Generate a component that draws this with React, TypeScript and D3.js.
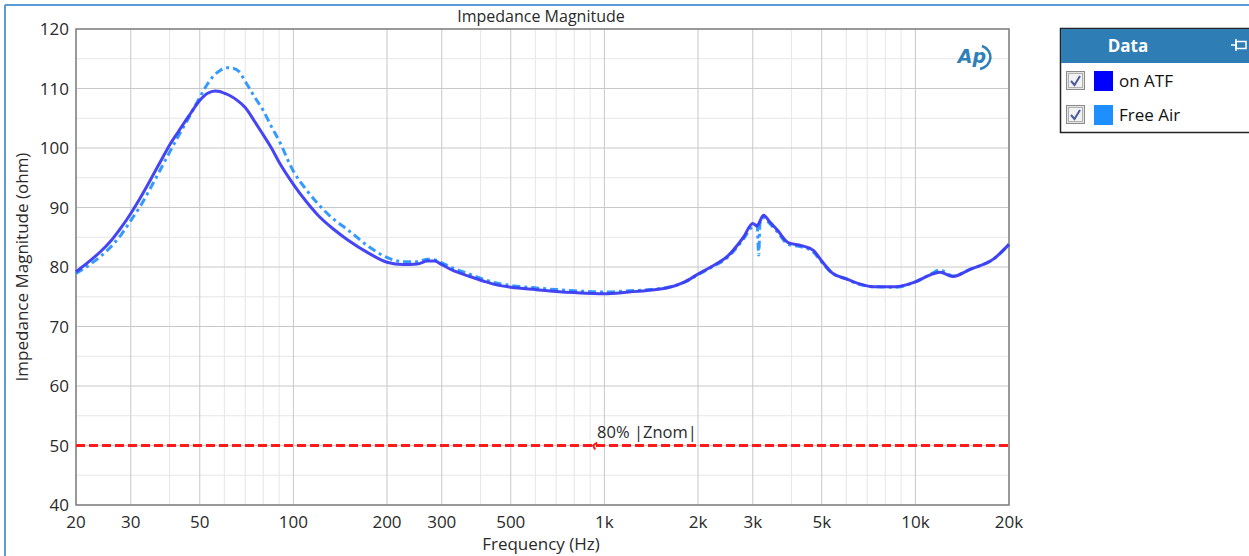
import React from "react";
import * as d3 from "d3";

const atfFreq = [20, 22, 24, 26, 28, 30, 32, 35, 38, 40, 43, 46, 50, 53, 56, 58, 60, 63, 66, 70, 75, 80, 85, 90, 100, 110, 120, 135, 150, 175, 200, 225, 250, 270, 285, 300, 330, 360, 410, 450, 500, 600, 700, 800, 1000, 1200, 1400, 1600, 1800, 2000, 2200, 2500, 2800, 3000, 3100, 3150, 3250, 3400, 3600, 3900, 4300, 4700, 5000, 5400, 6000, 6500, 7300, 8600, 10000, 11200, 12000, 13200, 15000, 18000, 20000];
const atfValues = [79.2, 80.9, 82.6, 84.5, 86.7, 89.0, 91.4, 95.0, 98.4, 100.5, 103.0, 105.3, 108.0, 109.2, 109.6, 109.5, 109.2, 108.7, 108.0, 106.8, 104.5, 102.2, 100.0, 97.6, 93.9, 91.0, 88.7, 86.3, 84.5, 82.3, 80.8, 80.4, 80.5, 81.0, 81.0, 80.4, 79.3, 78.6, 77.6, 77.0, 76.6, 76.2, 75.9, 75.7, 75.5, 75.8, 76.1, 76.5, 77.4, 78.8, 80.0, 81.9, 85.0, 87.3, 86.9, 87.5, 88.7, 87.6, 86.2, 84.1, 83.6, 82.8, 81.0, 79.0, 78.0, 77.3, 76.7, 76.7, 77.5, 78.7, 79.1, 78.4, 79.6, 81.5, 83.8];

const freeFreq = [20, 22, 24, 26, 28, 30, 32, 35, 38, 40, 43, 46, 50, 53, 56, 58, 61, 64, 67, 70, 75, 80, 85, 90, 100, 110, 120, 135, 150, 175, 200, 225, 250, 270, 285, 300, 330, 360, 410, 450, 500, 600, 700, 800, 1000, 1200, 1400, 1600, 1800, 2000, 2200, 2500, 2800, 3000, 3100, 3135, 3165, 3250, 3400, 3600, 3900, 4300, 4700, 5000, 5400, 6000, 6500, 7300, 8600, 10000, 11200, 12000, 13200, 15000, 18000, 20000];
const freeValues = [78.9, 80.3, 81.8, 83.5, 85.5, 87.8, 90.0, 93.6, 97.1, 99.3, 102.3, 105.0, 108.5, 110.8, 112.4, 113.0, 113.5, 113.4, 112.8, 111.2, 108.6, 106.3, 103.6, 101.2, 96.1, 93.0, 90.6, 88.0, 86.2, 83.4, 81.6, 80.9, 80.9, 81.3, 81.2, 80.7, 79.7, 79.0, 77.9, 77.3, 76.9, 76.5, 76.2, 76.0, 75.8, 76.0, 76.2, 76.6, 77.4, 78.7, 79.9, 81.7, 84.7, 86.8, 87.0, 82.0, 87.4, 88.3, 87.3, 85.9, 83.8, 83.4, 82.5, 80.8, 79.0, 78.0, 77.2, 76.7, 76.6, 77.5, 78.8, 79.5, 78.5, 79.6, 81.5, 83.8];

const xTickValues = [20, 30, 50, 100, 200, 300, 500, 1000, 2000, 3000, 5000, 10000, 20000];
const xTickLabels = ["20", "30", "50", "100", "200", "300", "500", "1k", "2k", "3k", "5k", "10k", "20k"];
const yTickValues = [40, 50, 60, 70, 80, 90, 100, 110, 120];
const limitValue = 50;
const limitLabel = "80% |Znom|";
const seriesNames = ["on ATF", "Free Air"];
const seriesColors = ["#0000ff", "#1e8fff"];

const FONT = "'Open Sans', 'Noto Sans', sans-serif";

export default function App() {
  const W = 1249, H = 556;
  const L = 76, R = 1009, T = 29, B = 505;
  const x = d3.scaleLog().domain([20, 20000]).range([L, R]);
  const y = d3.scaleLinear().domain([40, 120]).range([B, T]);

  const minorX: number[] = [];
  for (let dec = 10; dec <= 10000; dec *= 10) {
    for (let m = 1; m <= 9; m++) {
      const f = dec * m;
      if (f > 20 && f < 20000 && !xTickValues.includes(f)) minorX.push(f);
    }
  }
  const minorY = d3.range(45, 120, 10);

  const line = d3.line<[number, number]>().x(d => x(d[0])).y(d => y(d[1])).curve(d3.curveMonotoneX);
  const atfPath = line(atfFreq.map((f, i) => [f, atfValues[i]] as [number, number])) || "";
  const freePath = line(freeFreq.map((f, i) => [f, freeValues[i]] as [number, number])) || "";

  const tc = "#2a2a2a";
  const mx = x(920);
  return (
    <svg width={W} height={H} style={{ position: "absolute", left: 0, top: 0, display: "block" }} fontFamily={FONT}>
      <rect x={0} y={0} width={W} height={H} fill="#fff" />
      {/* window frame */}
      <line x1={5} y1={5} x2={W} y2={5} stroke="#5b9bd5" strokeWidth={2} />
      <line x1={5} y1={5} x2={5} y2={H} stroke="#5b9bd5" strokeWidth={2} />

      <text x={541} y={22} textAnchor="middle" fontSize={16} fill={tc}>Impedance Magnitude</text>

      {/* grid */}
      <g>
        {minorY.map(v => <line key={"my" + v} x1={L} x2={R} y1={y(v)} y2={y(v)} stroke="#e6e6e6" strokeWidth={1} />)}
        {minorX.map(f => <line key={"mx" + f} x1={x(f)} x2={x(f)} y1={T} y2={B} stroke="#e6e6e6" strokeWidth={1} />)}
        {yTickValues.map(v => <line key={"y" + v} x1={L} x2={R} y1={y(v)} y2={y(v)} stroke="#c8c8c8" strokeWidth={1} />)}
        {xTickValues.map(f => <line key={"x" + f} x1={x(f)} x2={x(f)} y1={T} y2={B} stroke="#c8c8c8" strokeWidth={1} />)}
      </g>
      <rect x={L} y={T} width={R - L} height={B - T} fill="none" stroke="#808080" strokeWidth={1.5} />

      {/* AP logo */}
      <g transform="translate(972,57)">
        <text x={0} y={6} textAnchor="middle" fontSize={19} fontWeight="bold" fontStyle="italic" fill="#2f7fb8" fontFamily="'DejaVu Sans', sans-serif">Ap</text>
        <path d="M 10 -11 A 13 12 0 0 1 8 12" fill="none" stroke="#2f7fb8" strokeWidth={2.5} />
      </g>

      {/* limit line */}
      <line x1={L} x2={R} y1={y(limitValue)} y2={y(limitValue)} stroke="#ff1a1a" strokeWidth={3} strokeDasharray="9,4" />
      <path d={`M ${mx + 4} ${y(limitValue) - 3} L ${mx} ${y(limitValue)} L ${mx + 2} ${y(limitValue) + 4}`} fill="none" stroke="#ff1a1a" strokeWidth={2} />
      <text x={mx + 4} y={y(limitValue) - 8} fontSize={16.5} fill={tc}>{limitLabel}</text>

      {/* series */}
      <path d={freePath} fill="none" stroke={seriesColors[1]} strokeOpacity={0.9} strokeWidth={3} strokeDasharray="8,4,3,4" />
      <path d={atfPath} fill="none" stroke="#3b3bf2" strokeOpacity={0.95} strokeWidth={3} />

      {/* axis labels */}
      {yTickValues.map(v => (
        <text key={"yl" + v} x={69} y={y(v) + 6} textAnchor="end" fontSize={17} fill={tc}>{v}</text>
      ))}
      {xTickValues.map((f, i) => (
        <text key={"xl" + f} x={x(f)} y={528} textAnchor="middle" fontSize={17} fill={tc}>{xTickLabels[i]}</text>
      ))}
      <text x={541} y={550} textAnchor="middle" fontSize={17} fill={tc}>Frequency (Hz)</text>
      <text transform="translate(28,267) rotate(-90)" textAnchor="middle" fontSize={17} fill={tc}>Impedance Magnitude (ohm)</text>

      {/* legend */}
      <g>
        <rect x={1060.5} y={28.5} width={200} height={104} fill="#fff" stroke="#222" strokeWidth={1.5} />
        <rect x={1061} y={29} width={200} height={34} fill="#2e7db5" />
        <text x={1128} y={52} textAnchor="middle" fontSize={17} fontWeight="bold" fill="#fff">Data</text>
        <g stroke="#fff" strokeWidth={1.5} fill="none">
          <line x1={1231} y1={45} x2={1236} y2={45} />
          <rect x={1236} y={41.5} width={10} height={7} />
          <line x1={1236} y1={39} x2={1236} y2={51} />
        </g>
        {seriesNames.map((n, i) => {
          const cy = 81 + i * 34;
          return (
            <g key={n}>
              <rect x={1066.5} y={cy - 9.5} width={18} height={18} fill="#e4e4e4" stroke="#8a8a8a" />
              <rect x={1068.5} y={cy - 7.5} width={14} height={14} fill="#f2f2f2" stroke="#b0b0b0" />
              <path d={`M ${1071} ${cy} L ${1074.5} ${cy + 4} L ${1080} ${cy - 5}`} fill="none" stroke="#4a5a9a" strokeWidth={2} />
              <rect x={1094} y={cy - 10} width={19} height={20} fill={seriesColors[i]} />
              <text x={1119} y={cy + 6} fontSize={17} fill="#111">{n}</text>
            </g>
          );
        })}
      </g>
    </svg>
  );
}
